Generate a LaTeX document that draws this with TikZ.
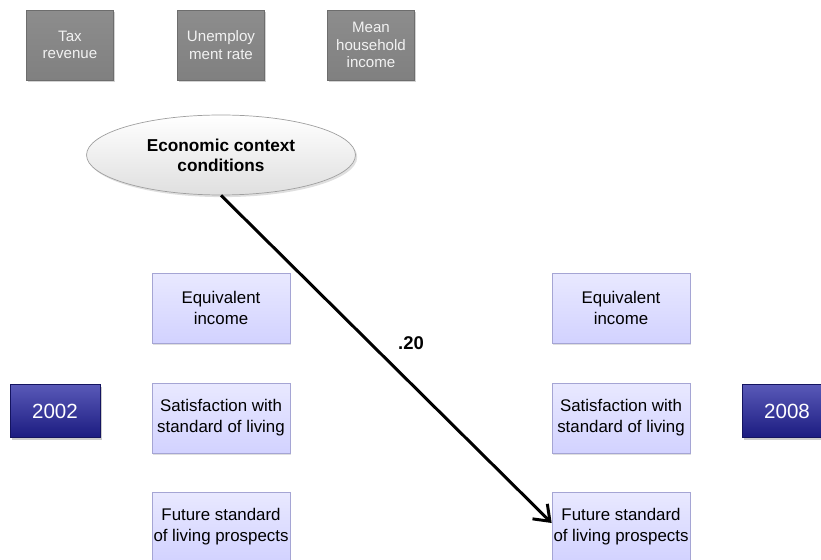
\documentclass[tikz,border=0pt]{standalone}
\usepackage{fontspec}
\setmainfont{Liberation Sans}
\usetikzlibrary{shapes.geometric,shadows,positioning,arrows.meta}
\definecolor{boxgray}{RGB}{128,128,128}
\definecolor{boxlav}{RGB}{210,210,255}
\definecolor{lavline}{RGB}{165,165,212}
\definecolor{yearblue}{RGB}{34,34,160}
\begin{document}
\begin{tikzpicture}[x=0.02cm, y=-0.02cm,
    indic/.style={rectangle, draw=boxgray!85!black, top color=boxgray!90!white, bottom color=boxgray,
      text=white!90!gray, font=\fontsize{8.6}{9.8}\selectfont, align=center,
      minimum width=1.74cm, minimum height=1.4cm, inner sep=1pt,
      drop shadow={shadow xshift=1pt, shadow yshift=-1.2pt, opacity=0.35}},
    latent/.style={ellipse, draw=gray!75, top color=white, bottom color=gray!25,
      font=\bfseries\fontsize{9.8}{11.5}\selectfont, align=center,
      minimum width=5.38cm, minimum height=1.6cm, inner sep=0pt,
      drop shadow={shadow xshift=1pt, shadow yshift=-1.2pt, opacity=0.25}},
    item/.style={rectangle, draw=lavline, top color=boxlav!50!white, bottom color=boxlav,
      font=\fontsize{9.6}{11.8}\selectfont, align=center,
      minimum width=2.76cm, minimum height=1.4cm, inner sep=0pt,
      drop shadow={shadow xshift=0.8pt, shadow yshift=-1pt, opacity=0.25}},
    year/.style={rectangle, draw=yearblue!60!black, top color=yearblue!75!white, bottom color=yearblue!80!black,
      text=white, font=\fontsize{11.7}{14}\selectfont,
      minimum width=1.8cm, minimum height=1.06cm,
      drop shadow={shadow xshift=1pt, shadow yshift=-1.2pt, opacity=0.4}}]
    \useasboundingbox (0,0) rectangle (821,560);
    \node[indic] (tax) at (70, 45) {Tax\\revenue};
    \node[indic] (unemp) at (221, 45) {Unemploy\\ment rate};
    \node[indic] (mean) at (371, 45) {Mean\\household\\income};
    \node[latent] (ecc) at (221, 155) {Economic context\\conditions};
    \node[item] (eq1) at (221, 308) {Equivalent\\income};
    \node[item] (sat1) at (221, 418) {Satisfaction with\\standard of living};
    \node[item] (fut1) at (221, 527) {Future standard\\of living prospects};
    \node[item] (eq2) at (621, 308) {Equivalent\\income};
    \node[item] (sat2) at (621, 418) {Satisfaction with\\standard of living};
    \node[item] (fut2) at (621, 527) {Future standard\\of living prospects};
    \node[year] (y1) at (55, 411) {2002};
    \node[year] (y2) at (787, 411) {2008};
    \draw [-{Straight Barb[length=8pt,width=12pt]}, line width=1.7pt] (ecc.south) to node[pos=0.45, right=0.42cm, font=\bfseries\fontsize{10.5}{12}\selectfont] {.20} ([yshift=0.08cm]fut2.west);
\end{tikzpicture}
\end{document}
